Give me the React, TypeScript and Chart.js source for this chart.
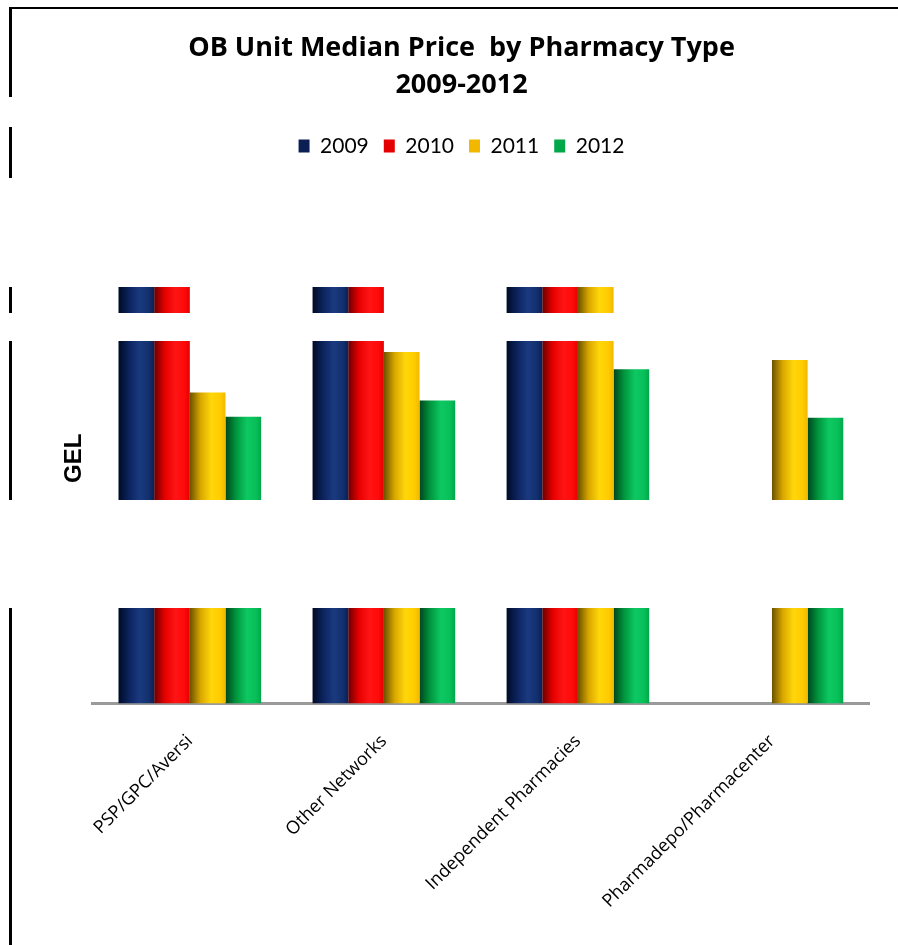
import React, { useEffect, useRef } from 'react';
import { Chart, registerables } from 'chart.js';

Chart.register(...registerables);

const CATEGORIES = ['PSP/GPC/Aversi', 'Other Networks', 'Independent Pharmacies', 'Pharmadepo/Pharmacenter'];
const SERIES_NAMES = ['2009', '2010', '2011', '2012'];
const VALUES_2009: (number | null)[] = [4.6, 4.45, 4.75, null];
const VALUES_2010: (number | null)[] = [4.5, 4.5, 4.6, null];
const VALUES_2011: (number | null)[] = [3.07, 3.47, 4.35, 3.39];
const VALUES_2012: (number | null)[] = [2.83, 2.99, 3.3, 2.82];
const Y_MIN = 0;
const Y_MAX = 5.3;

const SOLID = ['#002060', '#FF0000', '#FFC000', '#00B050'];
const STOPS_POS = [0, 0.3, 0.6, 0.85, 1];
const STOPS = [
  ['#000a26', '#0c245e', '#1a3a80', '#12306e', '#0b1f55'],
  ['#6a0000', '#e60000', '#ff1414', '#ff0a0a', '#e40000'],
  ['#6b5200', '#d8a600', '#ffd60a', '#ffcc00', '#f2b800'],
  ['#00461c', '#00963e', '#0dc862', '#08c05a', '#00a84a'],
];
const CAT_PCT = 0.735;

// white redaction bands (page pixels) and frame
const BANDS: [number, number][] = [[97, 127], [178, 287], [313, 341], [500, 608]];

const framePlugin = {
  id: 'frameAndBands',
  afterDraw(chart: any) {
    const ctx = chart.ctx;
    const W = chart.width, H = chart.height;
    ctx.save();
    ctx.fillStyle = '#000';
    ctx.fillRect(9, 7, W - 9, 2);
    ctx.fillRect(9, 7, 3, H - 7);
    ctx.fillStyle = '#fff';
    BANDS.forEach(([a, b]) => ctx.fillRect(0, a, W, b - a));
    ctx.restore();
  },
};

function makeBg(d: number) {
  return (c: any) => {
    const chart = c.chart;
    const area = chart.chartArea;
    if (c.type !== 'data' || !area || !chart.scales.x) return SOLID[d];
    const xs = chart.scales.x;
    const center = xs.getPixelForValue(c.dataIndex);
    const cw = (area.right - area.left) / CATEGORIES.length;
    const group = cw * CAT_PCT;
    const n = chart.data.datasets.length;
    const slot = group / n;
    const x0 = center - group / 2 + d * slot;
    const g = chart.ctx.createLinearGradient(x0, 0, x0 + slot, 0);
    STOPS[d].forEach((col, i) => g.addColorStop(STOPS_POS[i], col));
    return g;
  };
}

export default function App() {
  const ref = useRef<HTMLCanvasElement>(null);
  useEffect(() => {
    if (!ref.current) return;
    const series = [VALUES_2009, VALUES_2010, VALUES_2011, VALUES_2012];
    const chart = new Chart(ref.current, {
      type: 'bar',
      data: {
        labels: CATEGORIES,
        datasets: series.map((vals, d) => ({
          label: SERIES_NAMES[d],
          data: vals,
          backgroundColor: makeBg(d),
          borderWidth: 0,
          categoryPercentage: CAT_PCT,
          barPercentage: 1,
        })),
      },
      options: {
        responsive: false,
        animation: false,
        events: [],
        layout: { padding: { left: 54, right: 29, top: 0, bottom: 6 } },
        plugins: {
          tooltip: { enabled: false },
          title: {
            display: true,
            text: ['OB Unit Median Price  by Pharmacy Type', '2009-2012'],
            color: '#000',
            font: { family: 'Open Sans', size: 27, weight: 'bold', lineHeight: 1.37 },
            padding: { top: 30, bottom: 16.5 },
          },
          legend: {
            display: true,
            position: 'top',
            labels: {
              color: '#000',
              boxWidth: 11,
              boxHeight: 13,
              padding: 15,
              font: { family: 'Lato', size: 21 },
            },
          },
        },
        scales: {
          x: {
            grid: { display: false, drawTicks: false },
            border: { display: true, color: '#9a9a9a', width: 3 },
            ticks: {
              color: '#000',
              font: { family: 'Open Sans', size: 18 },
              minRotation: 45,
              maxRotation: 45,
              autoSkip: false,
              padding: 27,
            },
          },
          y: {
            min: Y_MIN,
            max: Y_MAX,
            grid: { display: false, drawTicks: false },
            border: { display: false },
            ticks: { display: false },
            title: {
              display: true,
              text: 'GEL       ',
              color: '#000',
              font: { family: 'Liberation Sans', size: 24, weight: 'bold', lineHeight: 1.2 },
              padding: { top: 6, bottom: 4 },
            },
          },
        },
      },
      plugins: [framePlugin],
    });
    return () => chart.destroy();
  }, []);
  return (
    <div style={{ position: 'fixed', left: 0, top: 0, width: 898, height: 945, background: '#fff' }}>
      <canvas ref={ref} width={898} height={945} style={{ display: 'block' }} />
    </div>
  );
}
